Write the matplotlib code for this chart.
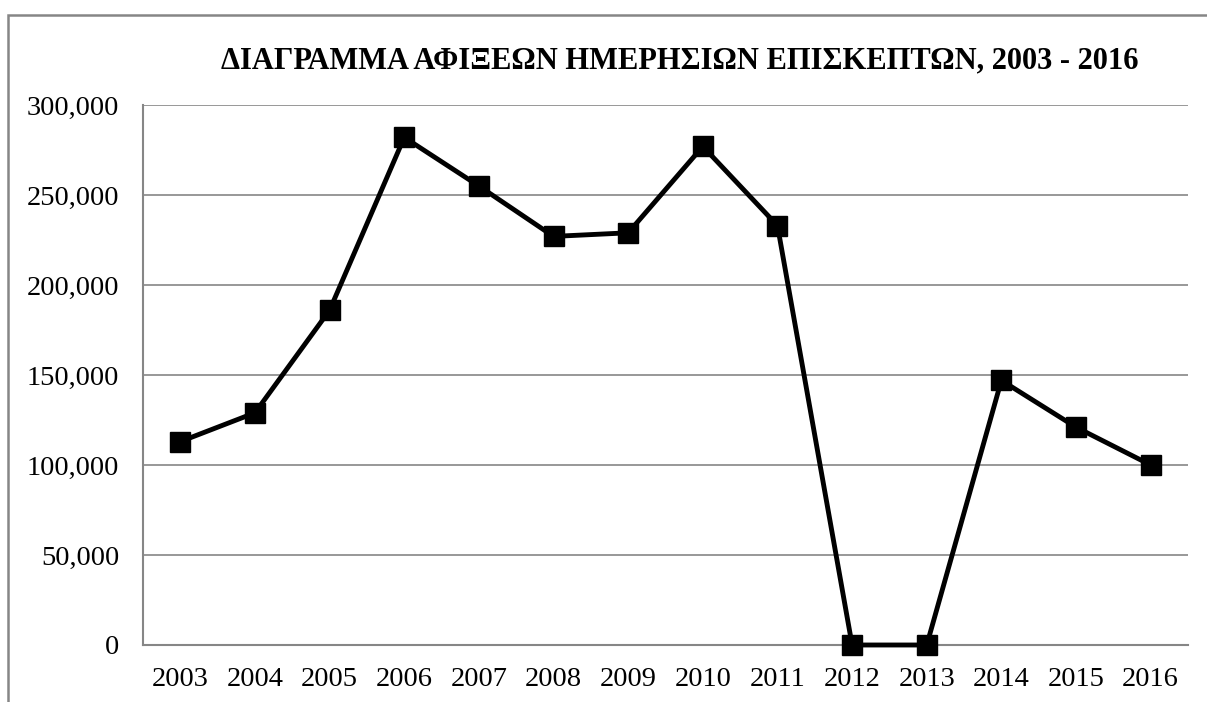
import numpy as np
import matplotlib
matplotlib.use('Agg')
from matplotlib import pyplot as plt
from matplotlib.patches import Rectangle
from matplotlib.ticker import FuncFormatter

years = ['2003', '2004', '2005', '2006', '2007', '2008', '2009',
         '2010', '2011', '2012', '2013', '2014', '2015', '2016']
arrivals = [113000, 129000, 186000, 282000, 255000, 227000, 229000,
            277000, 233000, 0, 0, 147000, 121000, 100000]
title = 'ΔΙΑΓΡΑΜΜΑ ΑΦΙΞΕΩΝ ΗΜΕΡΗΣΙΩΝ ΕΠΙΣΚΕΠΤΩΝ, 2003 - 2016'

plt.rcParams['font.family'] = ['Liberation Serif', 'DejaVu Serif']

W, H = 1207, 702
fig = plt.figure(figsize=(W / 100, H / 100), dpi=100)
ax = fig.add_axes([143 / W, (H - 645) / H, (1188 - 143) / W, (645 - 105) / H])

grey = '#868686'
x = np.arange(len(years))
ax.plot(x, arrivals, color='black', lw=3.5, marker='s', markersize=14,
        markerfacecolor='black', markeredgecolor='black', zorder=3,
        clip_on=False)

ax.set_xlim(-0.5, len(years) - 0.5)
ax.set_ylim(0, 300000)
ax.set_yticks(np.arange(0, 300001, 50000))
ax.yaxis.set_major_formatter(FuncFormatter(lambda v, p: f'{int(v):,}'))
ax.set_xticks(x)
ax.set_xticklabels(years)
ax.tick_params(axis='both', length=0, labelsize=20.5, colors='black')
ax.tick_params(axis='y', pad=17)
ax.tick_params(axis='x', pad=16)
ax.yaxis.grid(True, color=grey, lw=1.2, zorder=0)
ax.set_axisbelow(True)
for side in ['top', 'right']:
    ax.spines[side].set_visible(False)
for side in ['left', 'bottom']:
    ax.spines[side].set_color(grey)
    ax.spines[side].set_linewidth(1.5)

fig.text(680 / W, 1 - 61 / H, title, ha='center', va='center',
         fontsize=22, fontweight='bold')

# outer chart border, cut off on the right and at the bottom
fig.patches.append(Rectangle((8 / W, -0.2), 1.0, 1.2 - 15 / H,
                             transform=fig.transFigure, fill=False,
                             edgecolor=grey, lw=1.8, clip_on=False))

fig.savefig('out.png', dpi=100)
